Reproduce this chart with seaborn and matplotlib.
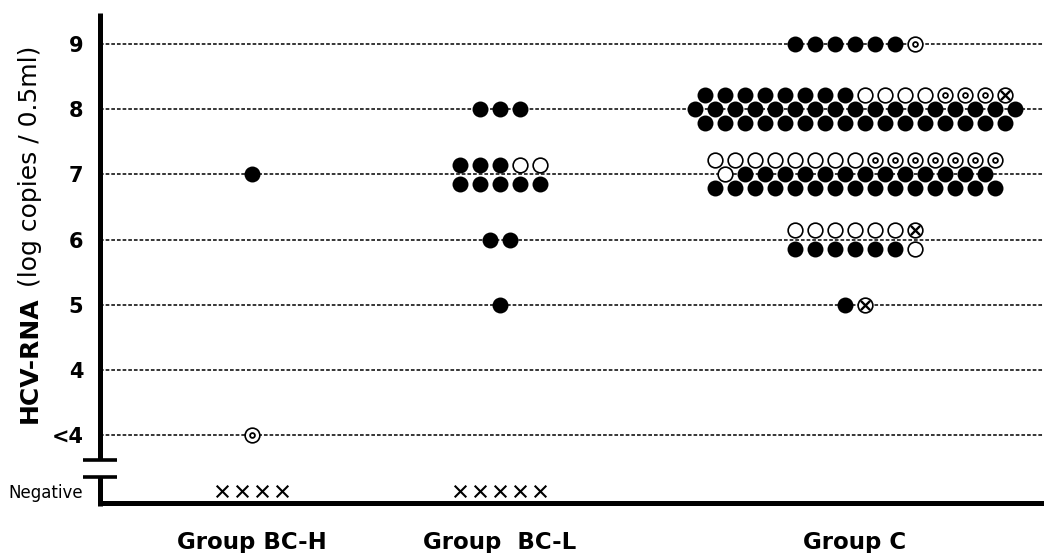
import matplotlib
matplotlib.use("Agg")
import pandas as pd
import matplotlib.pyplot as plt
import seaborn as sns

groups = ["Group BC-H", "Group  BC-L", "Group C"]
group_centers = [7.6, 20.0, 37.75]

neg_level = 2.15
level_ticks = [neg_level, 3, 4, 5, 6, 7, 8, 9]
level_labels = ["Negative", "<4", "4", "5", "6", "7", "8", "9"]
grid_levels = [3, 4, 5, 6, 7, 8, 9]

# F = filled, O = open, D = open with dot, X = open with cross, N = negative (x)
# rows are listed top to bottom for each level
bch_rows = {7: ["F"], 3: ["D"], neg_level: ["NNNN"]}
bcl_rows = {8: ["FFF"], 7: ["FFFOO", "FFFFF"], 6: ["FF"], 5: ["F"], neg_level: ["NNNNN"]}
c_rows = {9: ["FFFFFFD"],
          8: ["FFFFFFFFOOOODDDX", "FFFFFFFFFFFFFFFFF", "FFFFFFFFFFFFFFFF"],
          7: ["OOOOOOOODDDDDDD", "OFFFFFFFFFFFFF", "FFFFFFFFFFFFFFF"],
          6: ["OOOOOOX", "FFFFFFO"],
          5: ["FX"]}


def build_points():
    records = []
    for group, center, rows_by_level in zip(groups, group_centers, [bch_rows, bcl_rows, c_rows]):
        for level, rows in rows_by_level.items():
            n = len(rows)
            gap = 0.3 if n == 2 else 0.215
            for i, row in enumerate(rows):
                dy = ((n - 1) / 2 - i) * gap
                for j, kind in enumerate(row):
                    records.append({"group": group,
                                    "x": center + j - (len(row) - 1) / 2,
                                    "y": level + dy,
                                    "kind": kind})
    return pd.DataFrame(records)


def main():
    sns.set_style("white")
    plt.rcParams["font.family"] = ["DejaVu Sans"]
    for key in ["text.color", "axes.labelcolor", "xtick.color", "ytick.color"]:
        plt.rcParams[key] = "black"

    df = build_points()

    fig = plt.figure(figsize=(10.44, 5.53), dpi=100)
    ax = fig.add_axes([100 / 1044, 50 / 553, 944 / 1044, 490 / 553])

    for lv in grid_levels:
        ax.axhline(lv, color="black", lw=1.1, ls=(0, (2.4, 1.3)), zorder=1)

    sns.scatterplot(data=df[df.kind == "F"], x="x", y="y", ax=ax, marker="o", s=132,
                    color="black", edgecolor="black", linewidth=0, zorder=3)
    sns.scatterplot(data=df[df.kind.isin(["O", "D", "X"])], x="x", y="y", ax=ax, marker="o", s=112,
                    color="white", edgecolor="black", linewidth=1.2, zorder=3)
    sns.scatterplot(data=df[df.kind == "D"], x="x", y="y", ax=ax, marker="o", s=12,
                    color="white", edgecolor="black", linewidth=1.3, zorder=4)
    sns.scatterplot(data=df[df.kind == "X"], x="x", y="y", ax=ax, marker="x", s=45,
                    color="black", linewidth=1.7, zorder=4)
    sns.scatterplot(data=df[df.kind == "N"], x="x", y="y", ax=ax, marker="x", s=70,
                    color="black", linewidth=1.5, zorder=4)

    ax.set_xlim(0, 47.2)
    ax.set_ylim(1.96, 9.475)
    ax.set_xlabel("")
    ax.set_ylabel("")

    ax.set_yticks(level_ticks, level_labels)
    ax.set_xticks(group_centers, groups)
    ax.tick_params(axis="y", length=0, pad=12)
    ax.tick_params(axis="x", length=0, pad=20)
    for label in ax.get_yticklabels():
        if label.get_text() == "Negative":
            label.set_fontsize(12)
        else:
            label.set_fontsize(15)
            label.set_fontweight("bold")
    for label in ax.get_xticklabels():
        label.set_fontsize(16.5)
        label.set_fontweight("bold")

    for side in ["top", "right", "left"]:
        ax.spines[side].set_visible(False)
    ax.spines["bottom"].set_linewidth(3.6)
    ax.spines["bottom"].set_color("black")

    # left axis with a break between <4 and Negative
    ytr = ax.get_yaxis_transform()
    ax.plot([0, 0], [2.62, 9.475], transform=ytr, color="black", lw=3.6,
            solid_capstyle="butt", clip_on=False, zorder=5)
    ax.plot([0, 0], [1.92, 2.36], transform=ytr, color="black", lw=3.6,
            solid_capstyle="butt", clip_on=False, zorder=5)
    for yb in [2.62, 2.36]:
        ax.plot([-0.018, 0.018], [yb, yb], transform=ytr, color="black", lw=2.6,
                solid_capstyle="butt", clip_on=False, zorder=5)

    # y label: bold part then regular part
    t_bold = fig.text(30 / 1044, (553 - 423) / 553, "HCV-RNA", rotation=90, ha="center",
                      va="bottom", fontsize=18, fontweight="bold")
    fig.canvas.draw()
    bb = t_bold.get_window_extent()
    fig.text(30 / 1044, (bb.y1 + 9) / fig.bbox.height, "(log copies / 0.5ml)", rotation=90,
             ha="center", va="bottom", fontsize=18)

    plt.savefig("out.png", dpi=100)


if __name__ == "__main__":
    main()
